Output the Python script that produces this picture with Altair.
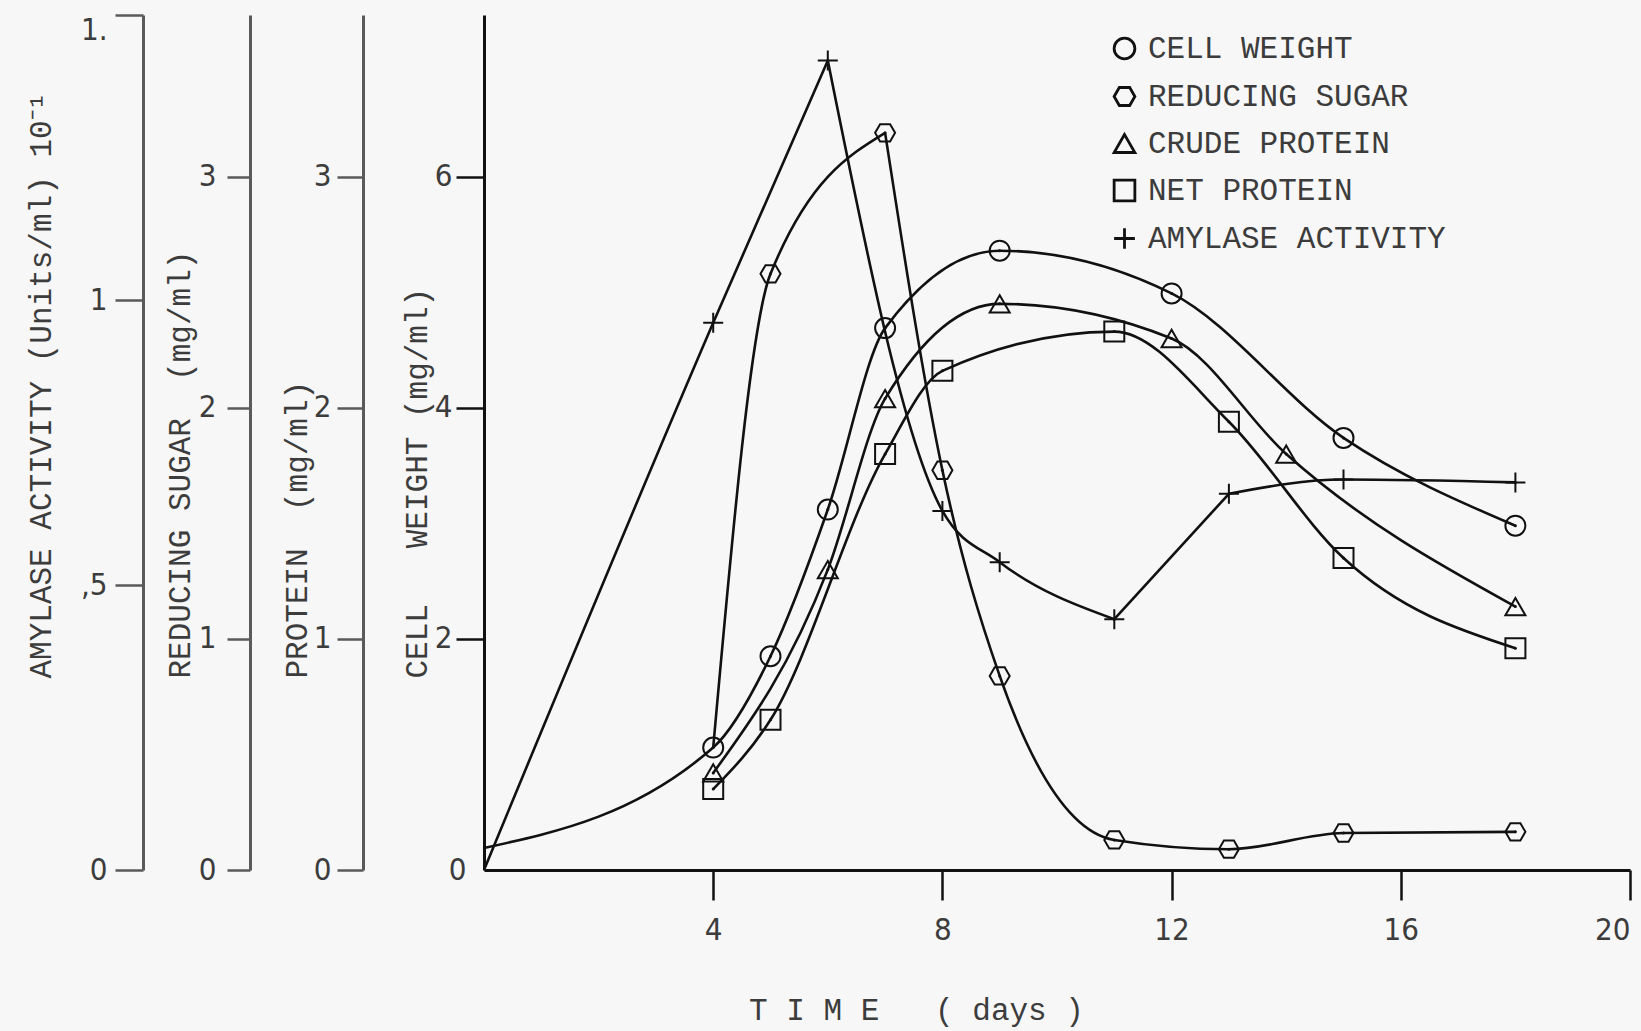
import altair as alt
import pandas as pd

# ---- measurements (days after inoculation) ----
SERIES = ["CELL WEIGHT", "REDUCING SUGAR", "CRUDE PROTEIN", "NET PROTEIN", "AMYLASE ACTIVITY"]

cw_days = [0, 4, 5, 6, 7, 9, 12, 15, 18]
cw_vals = [0.19, 1.06, 1.85, 3.12, 4.69, 5.36, 4.99, 3.74, 2.98]          # mg/ml

sugar_days = [4, 5, 7, 8, 9, 11, 13, 15, 18]
sugar_vals = [0.53, 2.58, 3.19, 1.73, 0.84, 0.13, 0.09, 0.16, 0.165]      # mg/ml

crude_days = [4, 6, 7, 9, 12, 14, 18]
crude_vals = [0.42, 1.30, 2.04, 2.45, 2.30, 1.80, 1.14]                   # mg/ml

net_days = [4, 5, 7, 8, 11, 13, 15, 18]
net_vals = [0.35, 0.65, 1.80, 2.16, 2.33, 1.94, 1.35, 0.96]               # mg/ml

amy_days = [0, 4, 6, 8, 9, 11, 13, 15, 18]
amy_vals = [0.0, 0.96, 1.42, 0.63, 0.54, 0.44, 0.66, 0.685, 0.68]         # Units/ml x 10^-1

x_ticks = [4, 8, 12, 16, 20]

INK = "#111111"
AXIS_GREY = "#5a5a5a"
TEXT = "#3c3c3c"
MONO = "Liberation Mono"
DIGITS = "Liberation Sans Narrow, DejaVu Sans Condensed, Liberation Sans"

HEXAGON = "M-1,0L-0.5,-0.866L0.5,-0.866L1,0L0.5,0.866L-0.5,0.866Z"
PLUS = "M-1,0L1,0M0,-1L0,1"
SHAPES = ["circle", HEXAGON, "triangle-up", "square", PLUS]
NB = "\u00a0"


def frame(name, days, vals, unmarked=(), corners=()):
    """Long table for one curve; a corner starts a new smooth piece."""
    rows, seg = [], 0
    for d, v in zip(days, vals):
        rows.append(dict(series=name, day=d, value=v, seg=seg, marked=d not in unmarked))
        if d in corners:
            seg += 1
            rows.append(dict(series=name, day=d, value=v, seg=seg, marked=False))
    return pd.DataFrame(rows)


X = alt.X(
    "day:Q",
    scale=alt.Scale(domain=[0, 20], nice=False, zero=False),
    axis=alt.Axis(
        values=x_ticks, grid=False, tickSize=30, tickWidth=2.5, tickColor=INK,
        domainColor=INK, domainWidth=3, labelFont=DIGITS, labelFontSize=31,
        labelColor=TEXT, labelPadding=15, labelFlush=True,
        title=f"T{NB}I{NB}M{NB}E{NB}{NB}{NB}({NB}days{NB})", titleFont=MONO,
        titleFontSize=31, titleFontWeight="normal", titleColor=TEXT,
        titleX=432, titleY=140, titleAlign="center", titleBaseline="middle",
    ),
)

SHAPE = alt.Shape(
    "series:N",
    scale=alt.Scale(domain=SERIES, range=SHAPES),
    legend=alt.Legend(
        orient="none", legendX=625, legendY=18, title=None,
        symbolSize=430, symbolStrokeWidth=2.8, symbolStrokeColor=INK,
        symbolFillColor="transparent", labelFont=MONO, labelFontSize=31,
        labelColor=TEXT, labelOffset=8, rowPadding=15, labelLimit=600,
        labelExpr=(
            f"datum.label == 'CRUDE PROTEIN' ? '{NB}{NB}CRUDE PROTEIN' : "
            f"datum.label == 'AMYLASE ACTIVITY' ? '{NB}AMYLASE ACTIVITY' : datum.label"
        ),
    ),
)


def y_axis(title, values, offset, color, tick, pad, title_x, label_expr=None, **extra):
    kw = dict(
        orient="left", offset=offset, values=values, grid=False,
        domainColor=color, domainWidth=3, tickColor=color, tickWidth=2.5,
        tickSize=tick, labelPadding=pad, labelFont=DIGITS, labelFontSize=31,
        labelColor=TEXT, title=title, titleFont=MONO, titleFontSize=31,
        titleFontWeight="normal", titleColor=TEXT, titleAngle=-90,
        titleX=title_x, titleY=663, titleAlign="left", titleBaseline="middle",
    )
    if label_expr:
        kw["labelExpr"] = label_expr
    kw.update(extra)
    return alt.Axis(**kw)


def series_layer(df, domain, axis):
    y = alt.Y("value:Q", scale=alt.Scale(domain=domain, nice=False, zero=False), axis=axis)
    base = alt.Chart(df).encode(x=X, y=y)
    line = base.mark_line(interpolate="monotone", color=INK, strokeWidth=2.6).encode(
        detail="seg:N"
    )
    marked = base.transform_filter("datum.marked")
    pts = marked.mark_point(filled=False, color=INK, strokeWidth=2, size=400, opacity=1).encode(
        shape=SHAPE
    )
    dots = marked.mark_circle(color=INK, size=9, opacity=1)
    return alt.layer(line, pts, dots)


# the cell-weight origin carries a label but no tick
cw_axis = y_axis(
    f"CELL{NB}{NB}{NB}WEIGHT (mg/ml)", [0, 2, 4, 6], 0, INK, 28, 4, -67,
    tickSize={"condition": {"test": "datum.value == 0", "value": 0}, "value": 28},
    labelPadding={"condition": {"test": "datum.value == 0", "value": 18}, "value": 4},
)
sugar_axis = y_axis(f"REDUCING SUGAR{NB}{NB}(mg/ml)", [0, 1, 2, 3], 234, AXIS_GREY, 23, 11, -70)
prot_axis = y_axis(f"PROTEIN{NB}{NB}(mg/ml)", [0, 1, 2, 3], 121, AXIS_GREY, 26, 6, -66)
amy_axis = y_axis(
    "AMYLASE ACTIVITY (Units/ml) 10\u207b\u00b9", [0, 0.5, 1, 1.5], 341, AXIS_GREY, 28, 8, -102,
    label_expr=(
        "datum.value == 0.5 ? ',5' : datum.value == 1.5 ? '1.' : format(datum.value, 'd')"
    ),
    labelBaseline={"condition": {"test": "datum.value == 1.5", "value": "top"}, "value": "middle"},
)

layers = [
    series_layer(frame(SERIES[0], cw_days, cw_vals, unmarked=(0,)), [0, 7.4], cw_axis),
    series_layer(frame(SERIES[1], sugar_days, sugar_vals, unmarked=(4,), corners=(7,)), [0, 3.7], sugar_axis),
    series_layer(frame(SERIES[2], crude_days, crude_vals), [0, 3.7], prot_axis),
    series_layer(frame(SERIES[3], net_days, net_vals), [0, 3.7], None),
    series_layer(frame(SERIES[4], amy_days, amy_vals, unmarked=(0,), corners=(6, 11, 13)), [0, 1.5], amy_axis),
]

chart = (
    alt.layer(*layers)
    .resolve_scale(y="independent")
    .properties(
        width=1146,
        height=855,
        autosize=alt.AutoSizeParams(type="none"),
        padding={"left": 484, "top": 15, "right": 11, "bottom": 161},
        background="#f7f7f7",
    )
    .configure_view(stroke=None)
)

chart.save("out.html", embed_options={"renderer": "svg", "actions": False})
